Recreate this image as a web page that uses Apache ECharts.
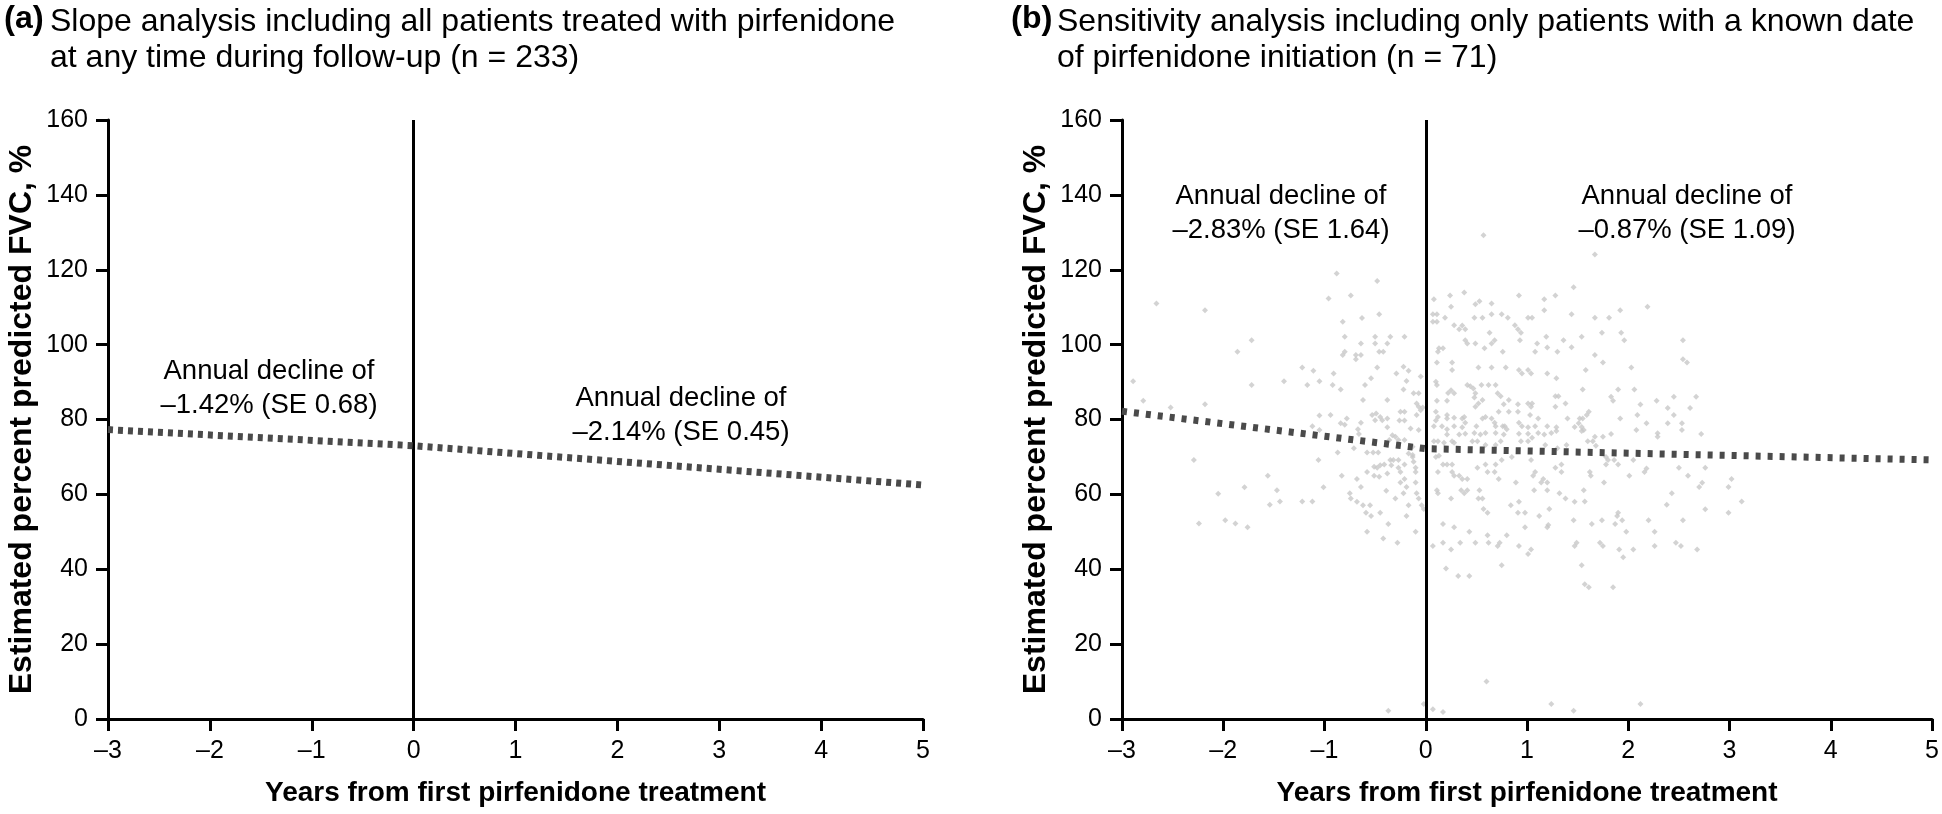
<!DOCTYPE html>
<html><head><meta charset="utf-8">
<script src="https://cdn.jsdelivr.net/npm/echarts@6/dist/echarts.min.js"></script>
<style>html,body{margin:0;padding:0;background:#fff}#c{width:1942px;height:814px}</style>
</head><body><div id="c"></div>
<script>
// ---- data ----
const titleA = ['Slope analysis including all patients treated with pirfenidone', 'at any time during follow-up (n = 233)'];
const titleB = ['Sensitivity analysis including only patients with a known date', 'of pirfenidone initiation (n = 71)'];
const xAxisTitle = 'Years from first pirfenidone treatment';
const yAxisTitle = 'Estimated percent predicted FVC, %';
const annotA = [['Annual decline of', '–1.42% (SE 0.68)'], ['Annual decline of', '–2.14% (SE 0.45)']];
const annotB = [['Annual decline of', '–2.83% (SE 1.64)'], ['Annual decline of', '–0.87% (SE 1.09)']];
const xRange = [-3, 5], xStep = 1;
const yRange = [0, 160], yStep = 20;
// fitted slope lines (x, estimated % predicted FVC)
const leftLineX = [-3, 0, 5];
const leftLineY = [77.3, 73.0, 62.5];
const rightLineX = [-3, 0, 5];
const rightLineY = [82.2, 72.2, 69.2];
// individual observations, panel b
const scatterPoints = [
[-2.66,111.0],[-2.18,109.2],[-1.72,101.2],[-1.86,98.1],[-2.89,90.2],[-2.79,85.0],[-2.52,83.2],[-2.18,84.1],[-1.72,89.2],[-1.40,90.2],[-1.22,93.9],[-1.11,93.0],[-1.17,89.2],[-1.05,90.2],[-1.05,81.1],[-1.12,78.2],[-1.05,77.2],[-0.96,112.3],
[-2.29,69.2],[-1.06,69.2],[-1.56,65.0],[-1.79,61.9],[-1.47,61.1],[-1.01,61.9],[-2.05,60.2],[-1.54,57.2],[-1.44,58.1],[-1.22,58.1],[-1.12,58.1],[-2.24,52.2],[-1.98,53.1],[-1.88,52.2],[-1.76,51.2],
[-0.88,119.0],[-0.48,117.0],[-0.74,113.1],[-0.46,108.1],[-0.82,106.1],[-0.63,107.1],[-0.80,102.1],[-0.64,100.3],[-0.50,102.1],[-0.50,100.3],[-0.35,102.1],[-0.21,102.1],[-0.38,100.3],[-0.46,98.1],[-0.42,98.1],[-0.80,98.1],[-0.82,97.2],[-0.69,97.2],[-0.64,97.2],[-0.69,96.1],[-0.48,93.9],[-0.22,94.1],[-0.17,93.0],[-0.91,92.3],[-0.54,91.0],[-0.29,92.3],[-0.19,90.3],[-0.92,89.2],[-0.60,89.2],[-0.84,88.0],[-0.05,91.5],[-0.22,88.0],[-0.12,87.0],[-0.07,87.0],[-0.62,85.2],[-0.38,85.2],[-0.94,81.2],[-0.78,80.3],[-0.84,79.0],[-0.80,78.6],[-0.53,81.2],[-0.49,81.6],[-0.45,80.7],[-0.43,79.8],[-0.64,79.1],[-0.67,77.4],[-0.25,82.1],[-0.21,82.1],[-0.26,79.7],[-0.21,79.7],[-0.09,84.3],[-0.07,83.4],[-0.05,82.5],[-0.38,77.9],[-0.15,77.6],
[-0.09,81.2],[-0.03,83.2],[-0.07,77.2],[-0.33,75.8],[-0.30,75.4],[-0.27,74.5],[-0.21,74.5],[-0.50,79.8],[-0.38,80.3],[-0.66,76.1],[-0.36,74.5],[-0.17,70.9],[-0.13,72.7],[-0.13,70.5],[-0.46,64.7],[-0.38,65.6],[-0.51,67.4],
[-0.87,71.2],[-0.71,72.3],[-0.58,71.2],[-0.52,71.2],[-0.47,71.2],[-0.35,69.2],[-0.32,69.2],[-0.34,67.8],[-0.45,67.8],[-0.41,68.0],[-0.27,69.2],[-0.21,68.0],[-0.27,67.1],[-0.25,66.0],[-0.13,70.0],[-0.12,68.7],[-0.10,67.1],[-0.10,66.0],[-0.48,67.1],[-0.51,65.0],[-0.58,66.0],[-0.68,64.1],[-0.64,62.0],[-0.83,65.0],[-0.25,63.2],[-0.21,64.1],[-0.19,62.0],[-0.22,60.3],[-0.30,58.9],[-0.10,63.2],[-0.09,60.3],[-0.07,58.9],[-0.04,57.1],[-0.02,56.1],[-0.39,61.0],[-0.75,60.3],[-0.74,58.9],[-0.68,58.0],[-0.62,57.1],[-0.55,57.1],[-0.17,57.1],[-0.59,55.1],[-0.54,54.2],[-0.45,55.1],[-0.19,54.2],[-0.37,52.1],[-0.58,50.0],[-0.42,48.2],[-0.28,47.1],[-0.10,50.0],[-0.37,2.2],[-0.02,4.0],
[0.07,2.6],[0.17,1.9],[0.60,10.0],[1.24,4.0],[1.46,2.2],[2.12,4.0],
[0.21,76.0],[0.33,76.0],[0.39,76.2],[0.48,76.4],[0.54,76.0],[0.59,76.4],[0.69,76.4],[0.77,76.0],[0.92,76.2],[1.01,76.2],[1.11,76.4],[1.17,76.0],[1.24,76.4],[1.29,76.9],
[0.08,74.2],[0.12,74.2],[0.26,74.2],[0.28,73.8],[0.46,74.2],[0.51,74.2],[0.59,73.2],[0.69,73.2],[0.74,74.2],[1.05,75.1],[1.39,73.2],[0.94,74.2],[1.01,74.2],[1.18,73.2],[1.30,72.3],[0.18,73.8],
[0.10,70.0],[0.13,70.3],[0.17,68.0],[0.21,68.0],[0.26,68.0],[0.12,66.0],[0.26,66.0],[0.28,65.0],[0.33,65.0],[0.36,64.1],[0.41,64.1],[0.51,67.1],[0.61,66.0],[0.68,66.0],[0.59,68.0],[0.69,68.0],[0.72,64.1],[0.75,69.2],[0.85,70.0],[1.04,69.2],[1.08,66.0],[1.06,65.0],[1.14,63.2],[1.16,64.1],[1.20,63.2],[1.28,67.1],[1.34,68.0],[1.34,66.0],[0.89,63.2],
[0.11,61.1],[0.12,60.3],[0.35,61.1],[0.38,60.3],[0.41,61.1],[0.53,61.1],[0.52,58.9],[0.56,58.9],[0.25,58.9],[1.07,61.1],[1.20,61.1],[1.32,60.3],[1.38,58.9],[1.47,58.0],[0.84,57.1],[0.92,58.0],[0.57,56.1],[0.61,55.1],[0.91,55.1],[0.98,55.1],[1.12,54.2],[1.22,56.1],[1.46,53.1],[1.21,51.8],[1.20,51.2],[0.17,52.1],[0.28,51.2],[0.98,51.2],[0.43,50.0],[0.61,49.1],[0.80,49.1],[0.07,46.2],[0.17,47.1],[0.25,45.3],[0.34,47.1],[0.49,47.1],[0.62,47.1],[0.71,46.2],[0.73,47.1],[0.92,46.2],[1.04,45.3],[1.01,44.1],[1.47,46.2],[1.49,47.1],[0.20,40.2],[0.32,38.2],[0.43,38.2],[0.75,41.1],
[0.57,129.2],[1.46,115.3],[0.08,112.1],[0.24,113.1],[0.38,113.9],[0.49,110.8],[0.53,111.6],[0.65,111.0],[0.92,113.1],[1.17,112.1],[1.28,113.1],[0.25,110.1],[0.07,108.1],[0.11,108.1],[0.07,106.1],[0.11,106.1],[0.19,107.2],[0.48,107.2],[0.56,107.2],[0.65,108.1],[0.75,108.1],[0.81,107.2],[1.01,107.2],[1.05,107.2],[1.17,109.2],[1.44,108.1],[0.28,105.2],[0.33,104.1],[0.36,105.1],[0.39,104.1],[0.63,103.2],[0.88,105.2],[0.91,104.1],[0.94,103.2],[0.39,101.2],[0.41,100.3],[0.49,100.3],[0.65,100.3],[0.68,101.2],[0.76,98.1],[0.93,101.2],[1.10,100.3],[1.19,102.1],[1.20,99.2],[1.30,98.1],[1.36,101.2],[1.44,99.3],[0.13,99.0],[0.17,99.0],[0.12,98.1],[0.58,99.0],[0.11,95.2],[0.26,95.2],[0.26,93.2],[0.52,93.9],[0.65,93.9],[0.79,93.9],[0.92,93.2],[0.95,92.3],[1.01,93.2],[1.04,92.3],[1.20,92.3],[1.29,91.0],[0.10,90.1],[0.11,89.2],[0.41,89.2],[0.44,88.9],[0.47,88.3],[0.49,87.0],[0.48,85.9],[0.55,89.2],[0.62,89.2],[0.69,89.2],[0.25,87.8],[0.28,87.0],[0.22,87.1],[0.71,87.0],[0.74,86.2],[0.56,85.2],[0.52,84.3],[0.82,85.2],[1.01,84.3],[1.05,84.3],[1.04,83.4],[1.28,86.2],[1.31,86.2],[1.38,84.3],[1.28,83.4],[0.10,82.1],[0.12,80.7],[0.10,79.7],[0.21,81.2],[0.21,80.3],[0.08,78.2],[0.16,78.2],[0.28,78.2],[0.36,80.3],[0.38,80.7],[0.39,79.1],[0.36,77.9],[0.49,83.4],[0.56,80.3],[0.59,80.7],[0.65,80.3],[0.68,79.1],[0.72,82.1],[0.76,78.2],[0.78,78.2],[0.80,77.4],[0.92,79.1],[0.95,78.2],[1.01,77.9],[1.11,80.3],[1.20,78.2],[1.29,77.9],[1.40,80.3],[1.47,78.0],[0.91,82.1],
[0.11,85.0],[0.21,85.0],[0.21,77.4],[1.08,98.1],[1.03,81.2],[1.08,78.2],[0.77,84.1],[0.82,82.1],[0.91,84.1],[0.28,80.5],[0.50,78.2],[0.69,78.2],
[1.67,124.1],[2.19,110.1],[1.67,107.2],[1.81,107.2],[1.92,109.2],[1.74,103.2],[1.93,103.2],[1.96,101.2],[1.54,102.1],[2.54,101.2],[1.67,97.2],[1.75,95.2],[1.58,93.2],[2.03,93.9],[2.54,96.1],[2.58,95.2],[1.55,88.0],[1.90,88.0],[2.06,88.0],[1.83,86.1],[1.85,85.0],[2.45,86.1],[2.67,86.1],[2.28,85.0],[2.12,84.0],[2.09,81.2],[2.39,83.1],[2.45,81.2],[2.61,83.1],[1.61,82.1],[1.59,81.2],[1.52,80.3],[1.55,80.3],[1.51,79.0],[1.54,78.0],[1.56,77.2],[1.92,80.3],[2.18,79.0],[2.39,79.0],[2.53,79.0],[2.53,77.2],[2.29,76.3],[2.29,75.4],[2.08,77.2],[2.72,76.1],[1.67,75.4],[1.75,75.4],[1.83,76.1],
[1.54,76.9],[1.60,74.2],[1.65,74.2],[1.68,73.0],[1.78,70.0],[1.80,69.2],[1.86,69.2],[1.78,68.0],[1.90,68.0],[2.05,69.2],[1.62,66.0],[1.63,65.0],[1.76,63.2],[2.01,65.0],[2.16,66.0],[2.18,66.9],[2.50,67.1],[2.59,65.0],[2.76,67.1],[1.56,61.1],[1.57,58.1],[2.43,60.3],[2.38,57.2],[2.70,62.0],[2.73,63.1],[2.99,62.0],[3.02,64.1],[3.12,58.1],[2.76,56.0],[2.99,55.1],[1.64,52.1],[1.74,53.1],[1.87,52.1],[1.89,54.2],[1.90,55.1],[1.94,53.1],[1.98,50.0],[2.20,53.1],[2.26,50.0],[2.54,53.1],[1.72,47.1],[1.75,46.2],[1.91,45.3],[1.95,43.2],[2.05,45.3],[2.26,46.2],[2.47,47.1],[2.52,46.2],[2.68,45.3],[1.54,41.1],[1.57,36.0],[1.61,35.2],[1.85,35.2]
];

// ---- chart ----
const FONT = '"Liberation Sans", Arial, Helvetica, sans-serif';
const fmtX = v => (v < 0 ? '–' + Math.abs(v) : String(v));
const zip = (xs, ys) => xs.map((x, i) => [x, ys[i]]);

function xAxisCfg(gi) {
  return {
    type: 'value', gridIndex: gi, min: xRange[0], max: xRange[1], interval: xStep,
    name: xAxisTitle, nameLocation: 'middle', nameGap: 60,
    nameTextStyle: { fontFamily: FONT, fontSize: 28, fontWeight: 'bold', color: '#000' },
    axisLine: { onZero: false, lineStyle: { color: '#000', width: 3 } },
    axisTick: { show: true, length: 12, lineStyle: { color: '#000', width: 3 } },
    axisLabel: { fontFamily: FONT, fontSize: 25, color: '#000', margin: 20, formatter: fmtX },
    splitLine: { show: false }
  };
}
function yAxisCfg(gi) {
  return {
    type: 'value', gridIndex: gi, min: yRange[0], max: yRange[1], interval: yStep,
    name: yAxisTitle, nameLocation: 'middle', nameGap: 70,
    nameTextStyle: { fontFamily: FONT, fontSize: 32, fontWeight: 'bold', color: '#000' },
    axisLine: { show: true, onZero: false, lineStyle: { color: '#000', width: 3 } },
    axisTick: { show: true, length: 12, lineStyle: { color: '#000', width: 3 } },
    axisLabel: { fontFamily: FONT, fontSize: 25, color: '#000', margin: 20 },
    splitLine: { show: false }
  };
}
const zeroLine = {
  silent: true, symbol: 'none', label: { show: false },
  lineStyle: { color: '#000', width: 3, type: 'solid' },
  data: [{ xAxis: 0 }]
};
function annot(lines, x, y) {
  return {
    type: 'text', x: x, y: y, z: 100,
    style: {
      text: lines.join('\n'), fontFamily: FONT, fontSize: 27.5, lineHeight: 34,
      fill: '#000', align: 'center', verticalAlign: 'middle'
    }
  };
}
const titleStyle = { fontFamily: FONT, fontSize: 32, lineHeight: 36, color: '#000', fontWeight: 'normal' };
const letterRich = {
  p: { fontFamily: FONT, fontSize: 33, color: '#000' },
  b: { fontFamily: FONT, fontSize: 32, color: '#000', fontWeight: 'bold' }
};

const option = {
  animation: false,
  backgroundColor: '#fff',
  title: [
    { text: '{p|(}{b|a}{p|)}', left: 4, top: 3, padding: 0, textStyle: { rich: letterRich, fontSize: 32 } },
    { text: titleA.join('\n'), left: 50, top: 4, padding: 0, textStyle: titleStyle },
    { text: '{p|(}{b|b}{p|)}', left: 1011, top: 3, padding: 0, textStyle: { rich: letterRich, fontSize: 32 } },
    { text: titleB.join('\n'), left: 1057, top: 4, padding: 0, textStyle: titleStyle }
  ],
  grid: [
    { left: 108, top: 120, width: 815, height: 599 },
    { left: 1122, top: 120, width: 812, height: 599 }
  ],
  xAxis: [xAxisCfg(0), xAxisCfg(1)],
  yAxis: [yAxisCfg(0), yAxisCfg(1)],
  series: [
    {
      type: 'line', xAxisIndex: 0, yAxisIndex: 0, data: zip(leftLineX, leftLineY),
      symbol: 'none', z: 5,
      lineStyle: { color: '#4a4a4a', width: 7, type: [5, 5], cap: 'butt' },
      markLine: zeroLine
    },
    {
      type: 'scatter', xAxisIndex: 1, yAxisIndex: 1, data: scatterPoints,
      symbol: 'diamond', symbolSize: 6, z: 2,
      itemStyle: { color: '#c8c8c8' }
    },
    {
      type: 'line', xAxisIndex: 1, yAxisIndex: 1, data: zip(rightLineX, rightLineY),
      symbol: 'none', z: 5,
      lineStyle: { color: '#4a4a4a', width: 7, type: [5, 7], cap: 'butt' },
      markLine: zeroLine
    }
  ],
  graphic: [
    annot(annotA[0], 269, 388),
    annot(annotA[1], 681, 415),
    annot(annotB[0], 1281, 213),
    annot(annotB[1], 1687, 213)
  ]
};
const chart = echarts.init(document.getElementById('c'), null, { renderer: 'canvas' });
chart.setOption(option);
</script>
</body></html>
